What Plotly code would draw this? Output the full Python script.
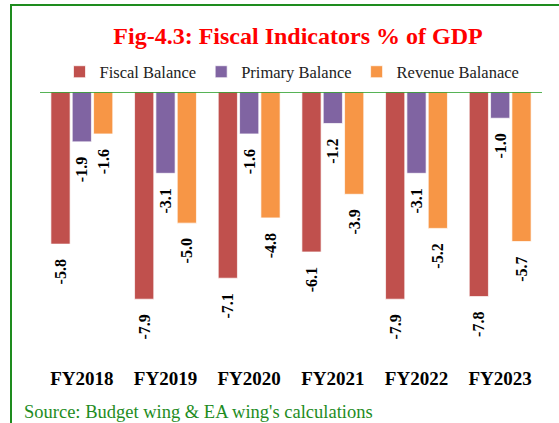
import plotly.graph_objects as go

categories = ["FY2018", "FY2019", "FY2020", "FY2021", "FY2022", "FY2023"]
fiscal_balance = [-5.8, -7.9, -7.1, -6.1, -7.9, -7.8]
primary_balance = [-1.9, -3.1, -1.6, -1.2, -3.1, -1.0]
revenue_balance = [-1.6, -5.0, -4.8, -3.9, -5.2, -5.7]

series = [
    ("Fiscal Balance", fiscal_balance, "#C0504D"),
    ("Primary Balance", primary_balance, "#8064A2"),
    ("Revenue Balanace", revenue_balance, "#F79646"),
]

SERIF = "Liberation Serif, Times New Roman, serif"
pad = "\u00a0\u00a0\u00a0"

fig = go.Figure()
for name, vals, color in series:
    fig.add_trace(go.Bar(
        name=name, x=categories, y=vals,
        marker=dict(color=color, line=dict(color="rgba(255,255,255,0.7)", width=1)),
        text=[f"{v:.1f}" + pad for v in vals],
        textposition="outside", textangle=-90,
        textfont=dict(family=SERIF, size=16, color="black", weight="bold"),
        cliponaxis=False, constraintext="none",
    ))

fig.update_layout(
    width=559, height=423,
    margin=dict(l=40, r=17, t=92, b=53, autoexpand=False),
    paper_bgcolor="white", plot_bgcolor="white",
    barmode="group", bargap=0.235, bargroupgap=0.1,
    title=dict(text="<b>Fig-4.3: Fiscal Indicators % of GDP</b>",
               font=dict(family=SERIF, size=24, color="#FF0000"),
               x=298 / 559, xanchor="center", y=1 - 36 / 423, yanchor="middle"),
    legend=dict(orientation="h", x=(292 - 40) / 502, xanchor="center",
                y=(370 - 72) / 278, yanchor="middle",
                font=dict(family=SERIF, size=16.5, color="#222"),
                itemwidth=30, traceorder="normal", bgcolor="rgba(0,0,0,0)"),
    showlegend=True,
    xaxis=dict(showline=False, ticks="", showgrid=False, ticklabelstandoff=-5,
               tickfont=dict(family=SERIF, size=19, color="black", weight="bold")),
    yaxis=dict(range=[-10.6, 0], visible=False, showgrid=False, zeroline=False),
    shapes=[
        dict(type="line", xref="paper", yref="y", x0=0, x1=1, y0=0, y1=0,
             line=dict(color="#1E9A1E", width=1.5), layer="above"),
        dict(type="rect", xref="paper", yref="paper",
             x0=(11 - 40) / 502, x1=1.2, y0=-0.5, y1=(370 - 5) / 278,
             line=dict(color="#1E8C1E", width=2), fillcolor="rgba(0,0,0,0)"),
    ],
    annotations=[
        dict(text="Source: Budget wing & EA wing's calculations", xref="paper", yref="paper",
             x=(22 - 40) / 502, xanchor="left", y=(370 - 412) / 278, yanchor="middle",
             showarrow=False, font=dict(family=SERIF, size=18.5, color="#1E8C1E")),
    ],
)

fig.write_html("out.html", config={"displayModeBar": False},
               post_script="document.body.style.margin='0';document.body.style.overflow='hidden';")
